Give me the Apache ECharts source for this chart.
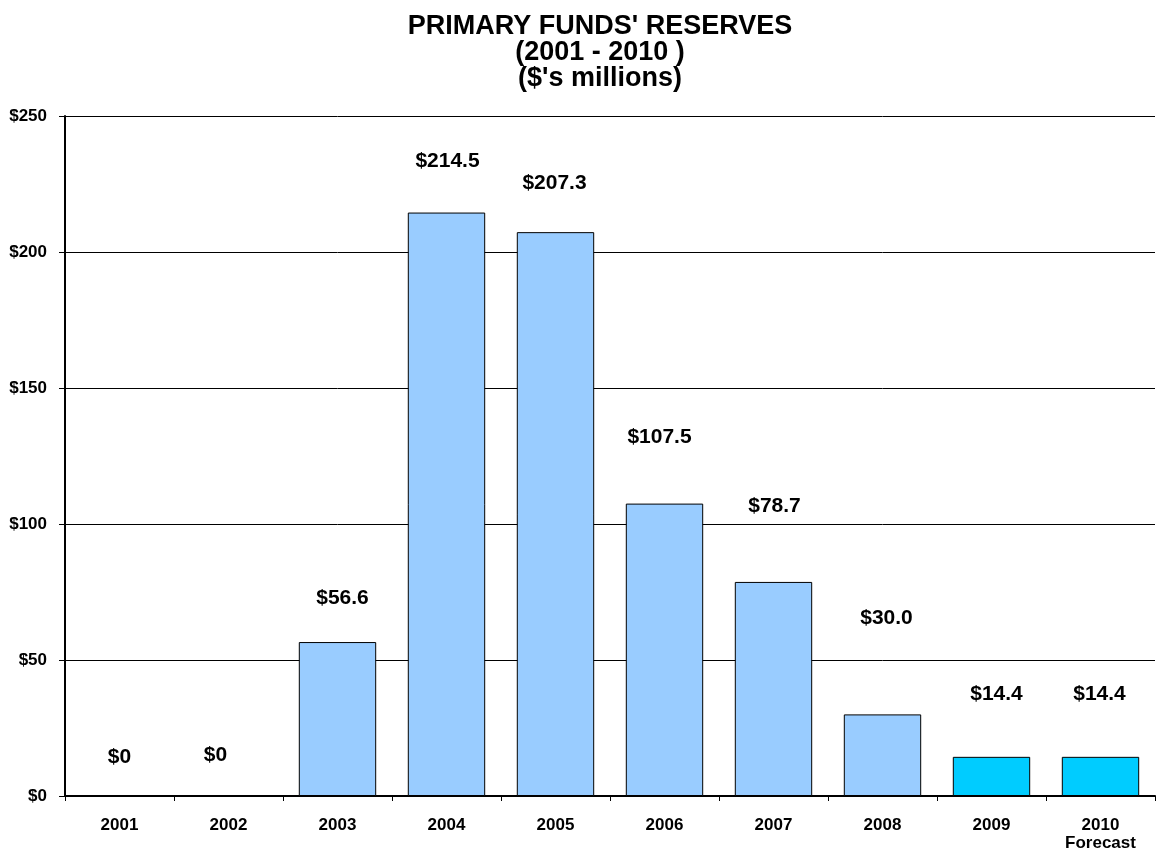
<!DOCTYPE html>
<html>
<head>
<meta charset="utf-8">
<script src="https://cdn.jsdelivr.net/npm/echarts@6/dist/echarts.min.js"></script>
<style>
html,body{margin:0;padding:0;background:#fff;}
#chart{width:1156px;height:854px;}
</style>
</head>
<body>
<div id="chart"></div>
<script>
const categories = ['2001', '2002', '2003', '2004', '2005', '2006', '2007', '2008', '2009', '2010\nForecast'];
const values = [0, 0, 56.6, 214.5, 207.3, 107.5, 78.7, 30.0, 14.4, 14.4];
const valueLabels = ['$0', '$0', '$56.6', '$214.5', '$207.3', '$107.5', '$78.7', '$30.0', '$14.4', '$14.4'];
const forecastFlags = [false, false, false, false, false, false, false, false, true, true];
const yTicks = [0, 50, 100, 150, 200, 250];

// label placement (layout only)
const labelDx = [0, -13, 5, 1, -1, -5, 1, 4, 5, -1];
const labelLift = [28, 30, 33, 41, 38, 56, 65, 86, 52, 52];

const chart = echarts.init(document.getElementById('chart'));
const FONT = 'Liberation Sans, Arial, sans-serif';

const data = values.map((v, i) => ({
  value: v,
  itemStyle: { color: forecastFlags[i] ? '#00CCFF' : '#99CCFF' },
  label: { distance: labelLift[i], offset: [labelDx[i], 0], formatter: valueLabels[i] }
}));

chart.setOption({
  animation: false,
  backgroundColor: '#fff',
  title: {
    text: "PRIMARY FUNDS' RESERVES\n(2001 - 2010 )\n($'s millions)",
    left: 595,
    top: 9,
    textAlign: 'center',
    textStyle: { fontFamily: FONT, fontWeight: 'bold', fontSize: 27, lineHeight: 26, color: '#000' }
  },
  grid: { left: 65, right: 1, top: 116, bottom: 58, containLabel: false },
  xAxis: {
    type: 'category',
    data: categories,
    axisLine: { lineStyle: { color: '#000', width: 2 } },
    axisTick: { show: true, length: 5, lineStyle: { color: '#000', width: 1 } },
    axisLabel: { fontFamily: FONT, fontWeight: 'bold', fontSize: 17, color: '#000', margin: 20, lineHeight: 18, verticalAlign: 'top', interval: 0 },
    splitLine: { show: false }
  },
  yAxis: {
    type: 'value',
    min: yTicks[0],
    max: yTicks[yTicks.length - 1],
    interval: yTicks[1] - yTicks[0],
    axisLine: { show: true, lineStyle: { color: '#000', width: 2 } },
    axisTick: { show: true, length: 6, lineStyle: { color: '#000' } },
    axisLabel: { fontFamily: FONT, fontWeight: 'bold', fontSize: 17, color: '#000', margin: 18, formatter: v => '$' + v },
    splitLine: { show: true, lineStyle: { color: '#000', width: 1 } }
  },
  series: [{
    type: 'bar',
    data: data,
    barCategoryGap: '29%',
    itemStyle: { borderColor: '#000', borderWidth: 1 },
    label: {
      show: true,
      position: 'top',
      fontFamily: FONT,
      fontWeight: 'bold',
      fontSize: 21,
      color: '#000'
    }
  }]
});
</script>
</body>
</html>
